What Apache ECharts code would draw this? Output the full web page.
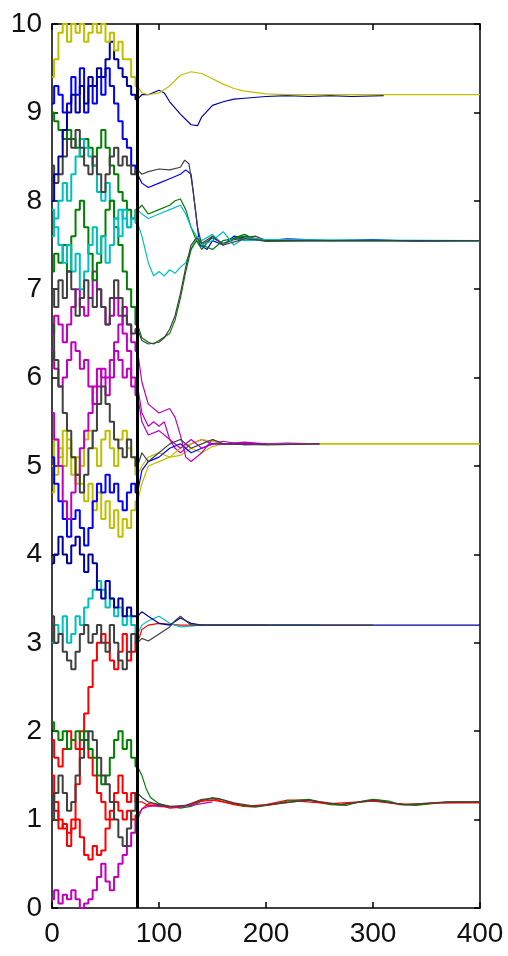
<!DOCTYPE html>
<html>
<head>
<meta charset="utf-8">
<script src="https://cdn.jsdelivr.net/npm/echarts@6/dist/echarts.min.js"></script>
<style>
html,body{margin:0;padding:0;background:#fff;}
#chart{width:508px;height:956px;}
</style>
</head>
<body>
<div id="chart"></div>
<script>
// ---- data ----
const xTicks = [0, 100, 200, 300, 400];
const yTicks = [0, 1, 2, 3, 4, 5, 6, 7, 8, 9, 10];
const switchTime = 80;
const tPre = [0,4,8,12,16,20,24,28,32,36,40,44,48,52,56,60,64,68,72,76,80];

// cluster ~9.2
const yellowA_pre = [9.4,9.6,9.9,10.0,9.8,10.0,9.9,10.0,9.8,9.9,10.0,9.9,10.0,9.8,9.9,9.7,9.8,9.6,9.6,9.4,9.3];
const yellowA_post = [[84,9.22],[90,9.2],[100,9.22],[110,9.3],[120,9.42],[130,9.46],[140,9.44],[150,9.38],[160,9.32],[170,9.27],[180,9.24],[200,9.21],[220,9.2],[400,9.2]];
const navyC_pre = [8.0,8.3,8.5,8.8,9.0,9.2,9.0,9.3,9.1,9.4,9.3,9.5,9.4,9.6,9.8,9.6,9.5,9.4,9.3,9.2,9.15];
const navyC_post = [[84,9.2],[90,9.2],[100,9.25],[105,9.22],[110,9.12],[120,8.98],[130,8.86],[136,8.85],[140,8.95],[150,9.08],[160,9.12],[170,9.15],[180,9.16],[200,9.18],[220,9.19],[240,9.18],[260,9.19],[280,9.18],[310,9.19]];

// cluster ~7.55
const blueB_pre = [9.1,9.3,9.2,9.0,9.1,9.4,9.2,9.5,9.0,9.3,9.1,9.4,9.2,9.5,9.3,9.1,8.9,8.7,8.6,8.4,8.3];
const blueB_post = [[84,8.2],[90,8.15],[100,8.2],[110,8.25],[120,8.3],[125,8.35],[130,8.3],[134,7.9],[138,7.5],[145,7.45],[150,7.55],[160,7.5],[170,7.6],[180,7.58],[200,7.55],[220,7.57],[260,7.55],[300,7.56],[340,7.54],[400,7.55]];
const grayZ_pre = [8.4,8.2,8.3,8.5,8.7,8.6,8.8,8.6,8.4,8.3,8.5,8.3,8.1,8.3,8.5,8.6,8.4,8.5,8.4,8.3,8.35];
const grayZ_post = [[84,8.3],[90,8.33],[100,8.36],[110,8.35],[120,8.38],[124,8.46],[128,8.42],[132,8.1],[136,7.7],[140,7.5],[150,7.58],[160,7.52],[170,7.56],[190,7.6],[200,7.55],[400,7.55]];
const greenD_pre = [9.0,8.9,8.8,8.7,8.8,8.7,8.6,8.5,8.7,8.6,8.4,8.6,8.8,8.6,8.4,8.3,8.1,8.0,7.9,7.8,7.9];
const greenD_post = [[84,7.95],[90,7.85],[100,7.9],[110,7.95],[115,8.0],[120,8.02],[125,7.9],[130,7.7],[135,7.55],[140,7.45],[150,7.6],[160,7.5],[170,7.58],[180,7.62],[190,7.56],[200,7.54],[240,7.55],[400,7.55]];
const cyanE_pre = [7.6,7.8,8.0,8.2,8.0,8.3,8.5,8.7,8.6,8.5,8.4,8.1,8.0,8.2,8.0,7.8,7.9,7.8,7.7,7.8,7.75];
const cyanE_post = [[84,7.6],[90,7.3],[95,7.15],[100,7.2],[105,7.15],[110,7.22],[115,7.18],[120,7.25],[125,7.3],[130,7.45],[135,7.6],[140,7.55],[150,7.62],[160,7.5],[170,7.58],[180,7.55],[200,7.56],[400,7.55]];
const cyanG_pre = [7.9,7.7,7.5,7.3,7.5,7.2,7.4,7.0,7.2,7.5,7.7,7.4,7.6,7.3,7.5,7.8,7.6,7.9,7.7,7.8,7.9];
const cyanG_post = [[84,7.85],[90,7.8],[100,7.85],[110,7.9],[120,7.95],[125,7.85],[130,7.7],[135,7.6],[140,7.5],[150,7.55],[160,7.65],[170,7.5],[180,7.58],[200,7.56],[230,7.55],[400,7.55]];
const greenF_pre = [7.2,7.4,7.3,7.5,7.2,7.6,7.9,8.0,7.7,7.4,7.1,7.3,7.6,7.9,8.0,7.7,7.5,7.2,7.0,6.8,6.6];
const greenF_post = [[84,6.45],[90,6.4],[95,6.38],[100,6.42],[110,6.5],[115,6.65],[120,6.9],[125,7.2],[130,7.45],[135,7.55],[140,7.5],[150,7.45],[160,7.55],[180,7.6],[200,7.55],[400,7.55]];
const grayH_pre = [7.0,6.8,7.1,6.9,7.2,7.0,6.7,6.9,7.1,6.9,6.8,7.0,6.8,6.6,6.9,7.1,6.9,6.7,6.6,6.5,6.55];
const grayH_post = [[84,6.42],[90,6.38],[100,6.4],[105,6.45],[110,6.55],[115,6.7],[120,6.95],[125,7.25],[130,7.5],[135,7.58],[140,7.52],[150,7.6],[160,7.5],[180,7.57],[200,7.55],[400,7.55]];

// cluster ~5.25
const magI_pre = [6.5,6.7,6.6,6.4,6.6,6.8,7.0,6.8,6.7,6.9,7.2,7.0,6.8,6.6,6.7,6.9,6.7,6.5,6.3,6.0,5.9];
const magI_post = [[84,5.6],[90,5.45],[95,5.5],[100,5.45],[105,5.5],[110,5.3],[115,5.2],[120,5.15],[130,5.25],[140,5.3],[150,5.25],[160,5.28],[180,5.24],[200,5.25],[220,5.26],[250,5.25]];
const magJ_pre = [6.3,6.1,5.9,6.0,6.2,6.4,6.3,6.1,6.2,5.9,5.7,5.9,6.1,6.0,6.2,6.4,6.6,6.8,6.6,6.4,6.3];
const magJ_post = [[84,5.95],[90,5.7],[100,5.6],[110,5.65],[115,5.55],[120,5.35],[125,5.1],[130,5.05],[140,5.15],[150,5.3],[160,5.25],[180,5.27],[200,5.25],[250,5.25]];
const magK_pre = [5.6,5.3,5.0,4.6,4.4,4.7,4.9,5.2,5.4,5.6,5.9,6.1,6.0,5.8,6.0,6.3,6.2,6.0,6.1,5.9,5.8];
const magK_post = [[84,5.5],[90,5.35],[100,5.4],[110,5.3],[120,5.2],[130,5.3],[140,5.2],[150,5.25],[180,5.25],[250,5.25]];
const grayL_pre = [6.6,6.2,5.9,5.6,5.4,5.1,4.9,4.7,4.9,5.2,5.4,5.7,5.9,5.7,5.5,5.3,5.2,5.1,5.3,5.1,5.0];
const grayL_post = [[84,5.15],[90,5.05],[100,5.15],[110,5.25],[120,5.3],[130,5.2],[140,5.25],[150,5.3],[160,5.25],[200,5.24],[250,5.25]];
const yellowM_pre = [5.0,5.3,5.1,5.4,5.2,4.9,5.1,4.8,4.6,4.8,4.5,4.7,4.4,4.6,4.3,4.5,4.2,4.4,4.3,4.5,4.6];
const yellowM_post = [[84,4.8],[90,5.0],[100,5.05],[110,5.1],[120,5.12],[130,5.2],[140,5.15],[150,5.22],[160,5.25],[200,5.25],[400,5.25]];
const yellowN_pre = [4.7,4.9,5.2,5.0,5.3,5.1,4.8,5.0,5.3,5.4,5.2,5.0,5.3,5.4,5.2,5.0,5.3,5.4,5.2,5.1,4.9];
const yellowN_post = [[84,5.0],[90,5.1],[100,5.15],[110,5.1],[120,5.2],[130,5.25],[140,5.3],[150,5.28],[160,5.25],[400,5.25]];
const blueO_pre = [5.1,4.8,4.6,4.4,4.2,4.4,4.5,4.3,4.1,4.3,4.6,4.8,4.7,4.9,4.7,4.8,4.6,4.5,4.7,4.8,4.7];
const blueO_post = [[84,4.95],[90,5.05],[100,5.1],[110,5.2],[120,5.25],[130,5.15],[140,5.2],[150,5.25],[200,5.25]];

// cluster ~3.2
const blueP_pre = [3.9,4.0,4.2,4.0,3.9,4.1,4.2,4.0,3.8,4.0,3.9,3.6,3.5,3.7,3.5,3.4,3.5,3.3,3.4,3.3,3.3];
const blueP_post = [[84,3.35],[90,3.3],[100,3.22],[110,3.2],[120,3.28],[130,3.22],[140,3.2],[160,3.2],[400,3.2]];
const cyanQ_pre = [3.0,3.2,3.1,3.3,3.0,3.1,3.3,3.2,3.4,3.5,3.6,3.7,3.6,3.4,3.5,3.3,3.4,3.2,3.3,3.2,3.1];
const cyanQ_post = [[84,3.2],[90,3.25],[100,3.3],[110,3.22],[120,3.18],[140,3.2],[250,3.2]];
const grayR_pre = [3.3,3.0,3.1,2.9,2.8,2.7,2.9,3.1,3.2,3.0,3.1,3.2,3.0,2.9,3.2,3.0,2.8,2.7,2.9,3.1,3.0];
const grayR_post = [[84,3.05],[90,3.02],[100,3.1],[110,3.18],[115,3.25],[120,3.3],[125,3.25],[130,3.2],[150,3.2],[300,3.2]];
const redS_pre = [1.5,1.2,1.0,0.9,0.7,1.0,1.4,1.8,2.2,2.5,2.8,3.0,3.1,3.0,2.8,2.7,2.9,3.1,2.8,2.9,3.0];
const redS_post = [[84,3.15],[90,3.2],[100,3.22],[120,3.2],[200,3.2]];

// cluster ~1.2
const greenT_pre = [2.1,2.0,1.9,2.0,1.8,1.9,2.0,1.9,2.0,1.8,1.7,1.5,1.4,1.5,1.7,1.9,2.0,1.8,1.9,1.7,1.6];
const greenT_post = [[84,1.5],[88,1.35],[92,1.25],[100,1.18],[110,1.15],[120,1.13],[130,1.15],[140,1.21],[150,1.25],[160,1.22],[170,1.18],[180,1.15],[190,1.14],[200,1.16],[210,1.18],[220,1.21],[240,1.23],[250,1.2],[260,1.17],[275,1.16],[290,1.21],[300,1.23],[315,1.21],[325,1.17],[340,1.16],[355,1.18],[370,1.2],[400,1.2]];
const redU_pre = [1.9,1.7,1.6,1.8,2.0,1.9,1.8,2.0,1.9,1.7,1.5,1.3,1.2,1.0,1.1,1.3,1.5,1.3,1.2,1.3,1.2];
const redU_post = [[84,1.2],[90,1.16],[100,1.15],[110,1.14],[120,1.15],[130,1.17],[140,1.22],[150,1.24],[160,1.2],[170,1.17],[180,1.15],[200,1.17],[220,1.22],[240,1.22],[255,1.18],[270,1.17],[290,1.2],[305,1.22],[320,1.18],[340,1.17],[360,1.19],[400,1.2]];
const redV_pre = [1.3,1.1,0.9,0.95,0.85,0.9,1.0,0.8,0.6,0.55,0.7,0.6,0.65,0.9,1.0,1.2,1.1,1.0,1.1,1.0,1.05];
const redV_post = [[84,1.12],[90,1.18],[100,1.17],[110,1.13],[120,1.14],[135,1.2],[150,1.22],[165,1.19],[185,1.15],[200,1.16],[230,1.21],[260,1.18],[300,1.21],[330,1.17],[360,1.19],[400,1.19]];
const grayW_pre = [1.0,1.3,1.5,1.3,1.1,1.2,1.5,1.7,1.9,2.0,1.9,1.7,1.5,1.4,1.2,1.0,0.8,0.7,0.9,1.1,1.3];
const grayW_post = [[84,1.25],[90,1.2],[100,1.17],[110,1.15],[125,1.16],[140,1.23],[155,1.24],[170,1.19],[190,1.15],[210,1.18],[240,1.22],[270,1.17],[300,1.22],[330,1.17],[370,1.2],[400,1.2]];
const magX_pre = [0.1,0.2,0.05,0.15,0.1,0.2,0.1,0.0,0.05,0.1,0.2,0.35,0.5,0.3,0.2,0.35,0.5,0.6,0.7,0.85,1.0];
const magX_post = [[84,1.12],[90,1.15],[100,1.16],[115,1.14],[130,1.16],[150,1.2]];

// ---- styling ----
const C = {
  blue: '#0000ff', navy: '#0000a0', green: '#008000', red: '#ff0000',
  cyan: '#00bfbf', mag: '#bf00bf', yellow: '#bfbf00', gray: '#404040'
};
const lines = [
  [blueB_pre, blueB_post, C.blue],
  [greenD_pre, greenD_post, C.green],
  [redS_pre, redS_post, C.red],
  [cyanE_pre, cyanE_post, C.cyan],
  [magI_pre, magI_post, C.mag],
  [yellowM_pre, yellowM_post, C.yellow],
  [grayZ_pre, grayZ_post, C.gray],
  [navyC_pre, navyC_post, C.navy],
  [greenF_pre, greenF_post, C.green],
  [redU_pre, redU_post, C.red],
  [cyanG_pre, cyanG_post, C.cyan],
  [magJ_pre, magJ_post, C.mag],
  [yellowN_pre, yellowN_post, C.yellow],
  [grayH_pre, grayH_post, C.gray],
  [blueO_pre, blueO_post, C.blue],
  [greenT_pre, greenT_post, C.green],
  [redV_pre, redV_post, C.red],
  [cyanQ_pre, cyanQ_post, C.cyan],
  [magK_pre, magK_post, C.mag],
  [yellowA_pre, yellowA_post, C.yellow],
  [grayL_pre, grayL_post, C.gray],
  [blueP_pre, blueP_post, C.navy],
  [magX_pre, magX_post, C.mag],
  [grayR_pre, grayR_post, C.gray],
  [grayW_pre, grayW_post, C.gray]
];

const series = [];
lines.forEach(([pre, post, color]) => {
  // random-walk phase (before the switch): jagged, heavier trace
  series.push({
    type: 'line',
    data: tPre.map((t, i) => [t, pre[i]]),
    step: 'middle',
    showSymbol: false, symbol: 'none', silent: true, animation: false, clip: true,
    lineStyle: { color: color, width: 2 }
  });
  // convergence phase (after the switch): thin trace
  series.push({
    type: 'line',
    data: [[tPre[tPre.length - 1], pre[pre.length - 1]]].concat(post),
    showSymbol: false, symbol: 'none', silent: true, animation: false, clip: true,
    lineStyle: { color: color, width: 1.2 }
  });
});

series.push({
  type: 'line',
  data: [],
  silent: true,
  animation: false,
  markLine: {
    silent: true,
    symbol: ['none', 'none'],
    label: { show: false },
    lineStyle: { color: '#000', width: 3, type: 'solid' },
    data: [{ xAxis: switchTime }]
  },
  z: 10
});

const font = 'Liberation Sans, Arial, sans-serif';
const axisCommon = {
  axisLine: { show: true, onZero: false, lineStyle: { color: '#000', width: 1.5 } },
  axisTick: { show: true, inside: true, length: 6, lineStyle: { color: '#000', width: 1.5 } },
  splitLine: { show: false }
};

const chart = echarts.init(document.getElementById('chart'), null, { renderer: 'canvas' });
chart.setOption({
  backgroundColor: '#fff',
  animation: false,
  grid: { left: 52, right: 28, top: 24, bottom: 48, containLabel: false },
  xAxis: [
    Object.assign({
      type: 'value', min: xTicks[0], max: xTicks[xTicks.length - 1], interval: 100, position: 'bottom',
      axisLabel: { fontSize: 28, color: '#111', fontFamily: font, margin: 12 }
    }, axisCommon),
    Object.assign({
      type: 'value', min: xTicks[0], max: xTicks[xTicks.length - 1], interval: 100, position: 'top',
      axisLabel: { show: false }
    }, axisCommon)
  ],
  yAxis: [
    Object.assign({
      type: 'value', min: yTicks[0], max: yTicks[yTicks.length - 1], interval: 1, position: 'left',
      axisLabel: { fontSize: 28, color: '#111', fontFamily: font, margin: 10 }
    }, axisCommon),
    Object.assign({
      type: 'value', min: yTicks[0], max: yTicks[yTicks.length - 1], interval: 1, position: 'right',
      axisLabel: { show: false }
    }, axisCommon)
  ],
  series: series
});
</script>
</body>
</html>
